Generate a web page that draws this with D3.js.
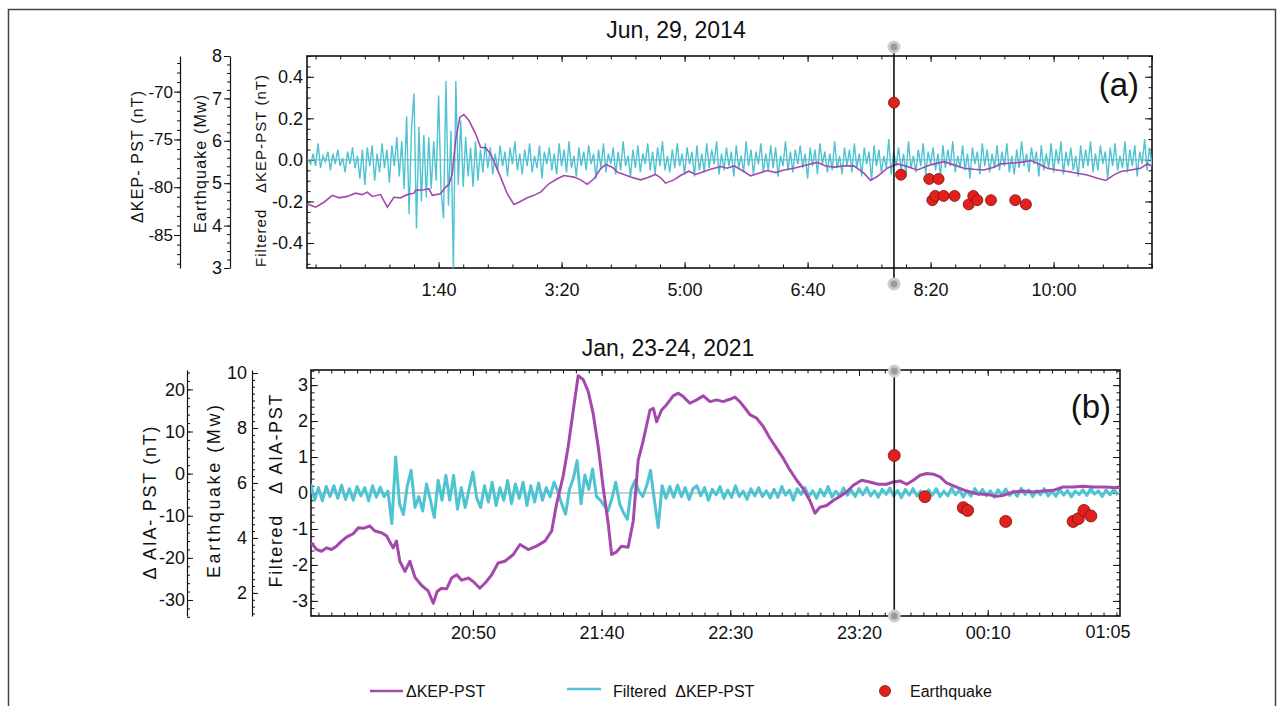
<!DOCTYPE html>
<html>
<head>
<meta charset="utf-8">
<title>KEP / AIA geomagnetic records</title>
<script src="https://cdn.jsdelivr.net/npm/d3@7"></script>
<style>
    body { margin: 0; background: white; }
    svg { display: block; font-family: "Liberation Sans", Arial, sans-serif; }
    .tick line { stroke: #111; }
    .domain { stroke: #111; stroke-width: 1.2; }
    text { fill: #111; }
</style>
</head>
<body>
<svg width="1277" height="706"></svg>

<script>

    // ---- panel (a): Jun 29 2014, minutes after 00:00 UT ----
    var kepTimesA = [-6.8,0,6.8,13.6,19,25.7,32.5,37.9,42,46.1,52.8,58.3,63.7,69.1,74.5,79.9,81.3,88.1,92.1,94.9,
        101.6,105.7,108.4,111.1,113.8,117.3,120.6,124.7,130.1,134.1,138.2,142.3,150.4,155.8,161.2,165.3,172.1,177.5,182.9,189.7,
        196.5,201.9,210,215.4,220.9,226.3,231.7,235.8,241.2,245.3,250.7,256.1,264.2,269.6,276.4,280.5,284.6,291.3,296.7,303.5,
        308.9,321.1,329.3,334.7,340.1,348.2,353.7,360.4,367.2,374,380.8,388.9,394.3,402.4,407.9,414.6,421.4,429.5,437.6,445.8,
        451.2,456.6,464.7,472.9,481,489.1,500,510.8,518.9,527.1,535.2,543.4,551.5,556.9,565,573.2,581.3,586.7,594.9,603,
        611.2,619.3,627.4,635.6,642.4,649.1,654.6,662.6,670.7,676.2,680]
    var kepValuesA = [-81.74,-82.09,-81.57,-80.85,-81.11,-80.96,-80.62,-80.77,-80.51,-80.96,-80.77,-82.09,-81.05,-81.11,-80.77,-80.62,-80.33,-80.27,-80.16,-80.85,
        -80.68,-79.99,-79.70,-78.60,-75.10,-72.67,-72.39,-73.02,-74.41,-75.82,-75.88,-76.51,-78.94,-80.68,-81.81,-81.57,-81.11,-80.85,-80.51,-79.64,
        -79.12,-78.77,-78.94,-79.23,-79.70,-79.12,-78.08,-77.62,-77.90,-78.42,-78.66,-78.94,-79.23,-79.01,-78.66,-79.01,-79.57,-79.23,-78.77,-78.32,
        -78.66,-78.12,-77.84,-78.01,-77.77,-78.36,-78.81,-78.53,-78.25,-78.47,-78.19,-78.01,-77.84,-77.56,-77.40,-77.77,-77.90,-77.77,-77.77,-78.53,
        -79.29,-78.88,-78.01,-77.56,-77.84,-78.19,-77.66,-77.32,-77.66,-78.01,-78.12,-78.19,-77.90,-77.56,-77.49,-77.40,-77.21,-77.49,-78.01,-78.19,
        -78.36,-78.53,-78.71,-79.05,-79.29,-78.71,-78.36,-78.19,-78.01,-77.56,-77.77]

    // filtered series, in 0.01 nT, one value every 2 min from -6 min
    var filtStartA = -6, filtStepA = 2
    var filtValuesA = [
        0,-2,3,-3,8,-4,2,-1,4,-5,3,-2,5,-3,1,-6,4,-2,6,-4,
        2,-9,5,-12,6,-3,7,-10,3,-6,8,-4,5,-11,7,-3,11,-8,9,-14,
        21,-26,15,32,-33,16,-20,12,-18,11,-14,9,-10,31,-15,-28,38,-22,14,-52,
        38,-12,19,-13,11,-8,6,-13,9,-10,5,-6,8,-4,6,-7,3,-5,7,-3,
        4,-8,6,-2,9,-5,3,-7,5,-3,8,-6,2,-4,7,-9,4,-2,6,-5,
        3,-7,8,-3,5,-6,9,-4,2,-8,6,-3,4,-5,7,-2,3,-9,5,-4,
        8,-6,3,-2,6,-7,4,-5,9,-3,2,-8,5,-4,7,-6,3,-2,8,-5,
        4,-7,6,-3,9,-5,2,-6,5,-4,8,-3,3,-7,6,-2,4,-8,7,-5,
        3,-6,8,-4,5,-2,9,-7,3,-5,6,-3,4,-8,7,-4,2,-6,9,-3,
        5,-7,4,-2,8,-6,3,-5,7,-4,6,-8,2,-3,9,-5,4,-6,5,-2,
        7,-4,3,-9,6,-3,5,-7,8,-2,4,-6,3,-5,9,-4,2,-7,6,-3,
        5,-6,8,-4,3,-8,6,-2,4,-10,7,-3,5,-6,2,-4,10,-7,4,-3,
        6,-5,3,-7,9,-4,2,-6,5,-3,8,-7,4,-2,6,-5,3,-8,7,-4,
        5,-3,9,-6,2,-4,7,-5,3,-9,6,-2,4,-7,8,-3,5,-6,3,-4,
        7,-5,4,-3,8,-6,2,-7,5,-4,9,-3,3,-6,6,-2,4,-8,7,-5,
        3,-4,8,-6,5,-2,9,-7,4,-3,6,-5,2,-8,7,-4,5,-3,9,-6,
        3,-5,7,-2,4,-9,6,-3,8,-5,2,-4,9,-6,5,-3,7,-8,4,-2,10,-5,6,-3]

    var quakeTimesA = [470.2,475.9,498.9,506.5,501.4,503.8,510.6,519.5,531,534.7,538,549.1,568.8,577.5]
    var quakeMagA = [6.9,5.2,5.1,5.1,4.6,4.7,4.7,4.7,4.5,4.7,4.6,4.6,4.6,4.5]
    var eventA = 470.2

    // ---- panel (b): Jan 23-24 2021, minutes after 20:00 UT ----
    var aiaTimesB = [-12.9,-10.7,-8.8,-6.8,-4.9,-3.0,-1.0,0.9,3.5,5.5,7.4,10.0,11.9,14.5,16.5,19.0,20.3,21.6,23.6,25.5,
        27.5,30.1,32.6,34.6,36.1,37.8,39.8,41.7,43.7,45.6,48.2,50.1,52.7,55.3,57.3,59.8,62.4,65.7,68.3,71.5,
        74.7,78.0,80.6,82.5,85.1,87.0,89.0,90.9,92.9,94.8,96.7,98.7,100.6,102.6,103.9,105.8,107.7,110.3,112.3,114.2,
        116.2,118.8,120.1,121.4,123.3,125.2,127.8,129.8,131.7,134.3,136.9,139.5,142.1,144.7,147.2,149.8,151.8,153.7,156.3,
        157.6,160.2,162.8,165.4,168,170.6,173.2,175.8,178.3,180.9,182.9,184.8,187.4,190,192.6,195.2,197.8,201.0,204.2,207.5,
        210.7,213.3,215.9,218.5,221.1,223.7,226.3,228.9,231.5,234.0,237.9,241.8,245.7,249.6,253.4,256.0,259.9,263.8,267.7,271.6,
        275.5,279.3,283.2,287.1,291.0,294.9,301.4]
    var aiaValuesB = [-16.42,-18.02,-18.42,-17.62,-18.02,-17.22,-16.02,-15.06,-14.27,-12.83,-12.99,-12.43,-13.63,-14.03,-14.82,-17.62,-16.02,-20.81,-23.21,-20.81,
        -24.64,-26.56,-27.84,-30.78,-27.99,-27.20,-27.36,-24.80,-24.00,-25.29,-24.80,-25.60,-27.20,-25.60,-24.00,-21.21,-20.81,-19.21,-16.82,-18.02,
        -17.22,-16.02,-13.63,-7.24,-0.46,6.32,15.10,23.25,22.29,19.49,14.31,6.32,-3.25,-12.03,-19.21,-18.58,-17.22,-17.46,-11.24,3.14,
        7.92,15.10,15.50,12.31,15.10,16.30,18.46,19.10,18.29,16.70,17.50,18.46,17.10,17.50,17.10,17.65,18.14,17.10,15.10,
        13.99,13.19,11.19,8.40,6.01,3.61,0.82,-1.58,-3.58,-6.37,-9.40,-7.97,-7.56,-6.37,-5.40,-4.37,-2.77,-1.58,-1.98,-2.53,
        -2.53,-1.98,-1.74,-2.53,-1.58,-0.38,0.02,-0.14,-0.78,-2.22,-3.18,-4.13,-4.77,-4.93,-5.40,-5.17,-4.37,-4.13,-4.37,-4.13,
        -3.97,-3.18,-3.18,-3.01,-3.18,-3.18,-3.33]

    // filtered series, in 0.01, one value every 1.5 min from -13 min
    var filtStartB = -13, filtStepB = 1.5
    var filtValuesB = [
        25,-20,15,-22,18,-10,20,-15,22,-18,12,-20,18,-8,15,-22,20,-12,16,-10,
        5,-85,100,-30,-60,20,63,-40,-10,-50,25,-20,-68,35,-20,49,-20,49,-45,15,
        -40,10,58,-15,-40,20,-25,30,-35,15,-20,35,-30,25,-15,30,-35,20,-25,28,
        -20,15,-10,30,5,-30,-59,10,40,90,-30,50,10,67,-10,-20,-35,-50,-15,30,
        -30,-55,-73,10,35,5,-10,20,63,-20,-96,20,-15,18,-12,22,-10,15,-18,12,
        20,-8,15,-20,10,-5,18,-15,8,-12,20,-10,5,-18,12,-8,15,-10,6,-14,
        10,-12,18,-6,8,-20,12,-4,15,-10,6,-15,10,-8,18,-12,5,-10,14,-6,
        8,-10,12,-5,15,-8,6,-12,10,-4,14,-9,7,-13,10,-6,12,-8,5,-15,
        9,-6,12,-10,5,-8,14,-5,8,-11,6,-9,12,-4,10,-8,6,-12,9,-5,
        11,-7,5,-9,13,-4,8,-10,6,-5,12,-8,4,-9,10,-6,7,-11,5,-4,
        9,-7,12,-3,6,-10,8,-5,11,-6]

    var quakeTimesB = [213.7,225.6,240.5,242.2,257,283.2,285.2,287.4,290.1]
    var quakeMagB = [7.0,5.5,5.1,5.0,4.6,4.6,4.7,5.0,4.8]
    var eventB = 213.7

    var purple = "#a448ae", cyan = "#4ec3d2", red = "#e3211c"

    // plain hyphen for negative tick labels, as in the original figure
    var loc = d3.formatLocale({decimal: ".", thousands: ",", grouping: [3], currency: ["", ""], minus: "-"})
    var fInt = loc.format("d"), fOne = loc.format(".1f")

    var svg = d3.select("svg")

    // outer figure frame
    svg.append("rect").attr("x", 8.5).attr("y", 9.5).attr("width", 1267).attr("height", 720)
        .attr("fill", "none").attr("stroke", "#444").attr("stroke-width", 1.5)

    // ---- scales ----
    var xA = d3.scaleLinear().domain([-7, 680]).range([307, 1152])
    var yAf = d3.scaleLinear().domain([-0.52, 0.5]).range([268, 56])
    var yAnT = d3.scaleLinear().domain([-88.45, -66.27]).range([268, 56])
    var yAm = d3.scaleLinear().domain([3, 8]).range([268, 56])

    var xB = d3.scaleLinear().domain([-12.9, 301.4]).range([311, 1120])
    var yBf = d3.scaleLinear().domain([-3.42, 3.42]).range([616, 370])
    var yBnT = d3.scaleLinear().domain([-33.8, 24.6]).range([616, 370])
    var yBm = d3.scaleLinear().domain([1.16, 10.11]).range([616, 370])

    function steps(a, b, s) { return d3.range(a, b + s / 2, s).map(v => +v.toFixed(3)) }

    function fmtA(m) { return Math.floor(m / 60) + ":" + d3.format("02")(m % 60) }
    function fmtB(m) { var t = (1200 + m) % 1440; return d3.format("02")(Math.floor(t / 60)) + ":" + d3.format("02")(t % 60) }

    function clean(g) { g.attr("font-size", null).attr("font-family", null) }

    // inward ticks on all four sides of a plot box, labels on left and bottom
    function frame(x, y, o) {
        var x0 = x.range()[0], x1 = x.range()[1], y0 = y.range()[1], y1 = y.range()[0]
        var id = "clip" + o.name
        svg.append("clipPath").attr("id", id).append("rect")
            .attr("x", x0).attr("y", y0).attr("width", x1 - x0).attr("height", y1 - y0)

        // bottom
        svg.append("g").attr("transform", "translate(0," + y1 + ")")
            .call(d3.axisBottom(x).tickValues(o.xMinor).tickSizeInner(-3.5).tickSizeOuter(0).tickFormat(""))
            .call(g => g.select(".domain").remove())
        svg.append("g").attr("transform", "translate(0," + y1 + ")")
            .call(d3.axisBottom(x).tickValues(o.xMajor).tickSizeInner(-6).tickSizeOuter(0).tickPadding(o.xPad).tickFormat(o.xFmt))
            .call(g => g.select(".domain").remove()).call(clean)
            .selectAll("text").style("font-size", o.xFs + "px")
        // top
        svg.append("g").attr("transform", "translate(0," + y0 + ")")
            .call(d3.axisTop(x).tickValues(o.xMinor).tickSizeInner(-3.5).tickSizeOuter(0).tickFormat(""))
            .call(g => g.select(".domain").remove())
        svg.append("g").attr("transform", "translate(0," + y0 + ")")
            .call(d3.axisTop(x).tickValues(o.xMajor).tickSizeInner(-6).tickSizeOuter(0).tickFormat(""))
            .call(g => g.select(".domain").remove())
        // left
        svg.append("g").attr("transform", "translate(" + x0 + ",0)")
            .call(d3.axisLeft(y).tickValues(o.yMinor).tickSizeInner(-3.5).tickSizeOuter(0).tickFormat(""))
            .call(g => g.select(".domain").remove())
        svg.append("g").attr("transform", "translate(" + x0 + ",0)")
            .call(d3.axisLeft(y).tickValues(o.yMajor).tickSizeInner(-7).tickSizeOuter(0).tickPadding(o.yPad).tickFormat(o.yFmt))
            .call(g => g.select(".domain").remove()).call(clean)
            .selectAll("text").style("font-size", o.yFs + "px")
        // right
        svg.append("g").attr("transform", "translate(" + x1 + ",0)")
            .call(d3.axisRight(y).tickValues(o.yMinor).tickSizeInner(-3.5).tickSizeOuter(0).tickFormat(""))
            .call(g => g.select(".domain").remove())
        svg.append("g").attr("transform", "translate(" + x1 + ",0)")
            .call(d3.axisRight(y).tickValues(o.yMajor).tickSizeInner(-7).tickSizeOuter(0).tickFormat(""))
            .call(g => g.select(".domain").remove())

        svg.append("rect").attr("x", x0).attr("y", y0).attr("width", x1 - x0).attr("height", y1 - y0)
            .attr("fill", "none").attr("stroke", "#111").attr("stroke-width", 1.6)

        // zero line
        svg.append("line").attr("x1", x0).attr("x2", x1).attr("y1", y(0)).attr("y2", y(0))
            .attr("stroke", "#9a9a9a").attr("stroke-width", 1)
        return id
    }

    // extra outer y axis, drawn as a line with ticks
    function sideAxis(scale, xPos, major, minor, dir, fs, pad) {
        svg.append("g").attr("transform", "translate(" + xPos + ",0)")
            .call(d3.axisLeft(scale).tickValues(minor).tickSizeInner(dir * 3).tickSizeOuter(0).tickFormat(""))
        svg.append("g").attr("transform", "translate(" + xPos + ",0)")
            .call(d3.axisLeft(scale).tickValues(major).tickSizeInner(dir * 6).tickSizeOuter(0).tickPadding(pad).tickFormat(fInt))
            .call(g => g.select(".domain").remove()).call(clean)
            .selectAll("text").style("font-size", fs + "px")
    }

    function rotTitle(x, cy, txt, fs, len) {
        svg.append("text").attr("transform", "translate(" + x + "," + cy + ") rotate(-90)")
            .attr("text-anchor", "middle").attr("dominant-baseline", "central")
            .style("font-size", fs + "px").style("white-space", "pre")
            .attr("textLength", len).attr("lengthAdjust", "spacing")
            .text(txt)
    }

    function eventLine(x, t, yTop, yBot) {
        svg.append("line").attr("x1", x(t)).attr("x2", x(t)).attr("y1", yTop).attr("y2", yBot)
            .attr("stroke", "#111").attr("stroke-width", 1.6)
        for (var yy of [yTop, yBot]) {
            svg.append("circle").attr("cx", x(t)).attr("cy", yy).attr("r", 5)
                .attr("fill", "#9b9b9b").attr("stroke", "#cdcdcd").attr("stroke-width", 3)
        }
    }

    function quakes(x, y, times, mags, r) {
        svg.append("g").selectAll("circle").data(times).enter().append("circle")
            .attr("cx", d => x(d)).attr("cy", (d, i) => y(mags[i])).attr("r", r)
            .attr("fill", red).attr("stroke", "#7a1010").attr("stroke-width", 0.8)
    }

    // ================= panel (a) =================
    svg.append("text").attr("x", 676).attr("y", 38).attr("text-anchor", "middle")
        .style("font-size", "23px").text("Jun, 29, 2014")

    var clipA = frame(xA, yAf, {
        name: "A",
        xMajor: steps(100, 600, 100), xMinor: steps(0, 680, 20), xFmt: fmtA, xPad: 15, xFs: 18,
        yMajor: [-0.4, -0.2, 0, 0.2, 0.4], yMinor: steps(-0.5, 0.5, 0.05), yFmt: fOne, yPad: 4, yFs: 18
    })

    sideAxis(yAnT, 180, [-85, -80, -75, -70], steps(-88, -67, 1), 1, 17, 1)
    sideAxis(yAm, 230, steps(3, 8, 1), steps(3, 8, 0.2), 1, 18, 2)

    rotTitle(137, 157, "ΔKEP- PST (nT)", 16, 132)
    rotTitle(200, 164, "Earthquake (Mw)", 16, 138)
    rotTitle(260, 171, "Filtered   ΔKEP-PST (nT)", 15, 192)

    var gA = svg.append("g").attr("clip-path", "url(#" + clipA + ")")
    gA.append("path").datum(filtValuesA)
        .attr("d", d3.line().x((d, i) => xA(filtStartA + i * filtStepA)).y(d => yAf(d / 100)))
        .attr("fill", "none").attr("stroke", cyan).attr("stroke-width", 1.4)
    gA.append("path").datum(kepTimesA)
        .attr("d", d3.line().x(d => xA(d)).y((d, i) => yAnT(kepValuesA[i])))
        .attr("fill", "none").attr("stroke", purple).attr("stroke-width", 1.6)

    eventLine(xA, eventA, 47, 284)
    quakes(xA, yAm, quakeTimesA, quakeMagA, 5.5)

    svg.append("text").attr("x", 1139).attr("y", 96).attr("text-anchor", "end")
        .style("font-size", "33px").text("(a)")

    // ================= panel (b) =================
    svg.append("text").attr("x", 668).attr("y", 356).attr("text-anchor", "middle")
        .style("font-size", "23px").text("Jan, 23-24, 2021")

    var clipB = frame(xB, yBf, {
        name: "B",
        xMajor: steps(50, 250, 50), xMinor: steps(-10, 300, 5), xFmt: fmtB, xPad: 10, xFs: 18,
        yMajor: steps(-3, 3, 1), yMinor: steps(-3.4, 3.4, 0.2), yFmt: fInt, yPad: 3, yFs: 18
    })
    // closing time label at the right end of the axis
    svg.append("text").attr("x", xB.range()[1] - 12).attr("y", 638).attr("text-anchor", "middle")
        .style("font-size", "18px").text("01:05")

    sideAxis(yBnT, 187, steps(-30, 20, 10), steps(-34, 24, 2), -1, 18, 2)
    sideAxis(yBm, 252, steps(2, 10, 2), steps(1.25, 10, 0.25), -1, 18, 5)

    rotTitle(150, 503, "Δ AIA- PST (nT)", 18, 153)
    rotTitle(213.5, 491.5, "Earthquake (Mw)", 18, 173)
    rotTitle(276, 491, "Filtered   Δ AIA-PST", 18, 193)

    var gB = svg.append("g").attr("clip-path", "url(#" + clipB + ")")
    gB.append("path").datum(filtValuesB)
        .attr("d", d3.line().x((d, i) => xB(filtStartB + i * filtStepB)).y(d => yBf(d / 100)))
        .attr("fill", "none").attr("stroke", cyan).attr("stroke-width", 3).attr("stroke-linejoin", "round")
    gB.append("path").datum(aiaTimesB)
        .attr("d", d3.line().x(d => xB(d)).y((d, i) => yBnT(aiaValuesB[i])))
        .attr("fill", "none").attr("stroke", purple).attr("stroke-width", 3).attr("stroke-linejoin", "round")

    eventLine(xB, eventB, 371, 616)
    quakes(xB, yBm, quakeTimesB, quakeMagB, 6)

    svg.append("text").attr("x", 1111).attr("y", 418).attr("text-anchor", "end")
        .style("font-size", "33px").text("(b)")

    // ================= legend =================
    var legend = svg.append("g").style("font-size", "16px")
    legend.append("line").attr("x1", 370).attr("x2", 403).attr("y1", 691).attr("y2", 691)
        .attr("stroke", purple).attr("stroke-width", 2.5)
    legend.append("text").attr("x", 406).attr("y", 697).text("ΔKEP-PST")
    legend.append("line").attr("x1", 567).attr("x2", 601).attr("y1", 689).attr("y2", 689)
        .attr("stroke", cyan).attr("stroke-width", 2.5)
    legend.append("text").attr("x", 613).attr("y", 697).style("white-space", "pre").text("Filtered  ΔKEP-PST")
    legend.append("circle").attr("cx", 885).attr("cy", 691).attr("r", 5.5)
        .attr("fill", red).attr("stroke", "#7a1010").attr("stroke-width", 0.8)
    legend.append("text").attr("x", 910).attr("y", 697).text("Earthquake")

</script>
</body>
</html>
